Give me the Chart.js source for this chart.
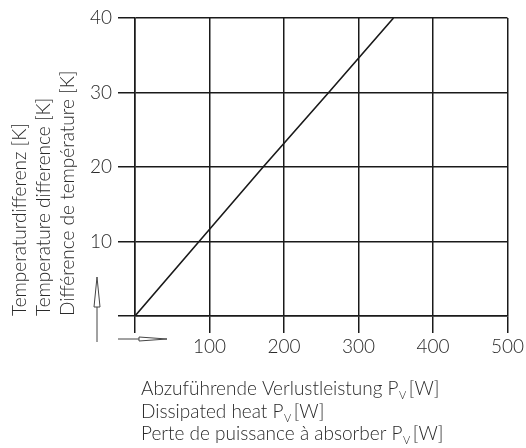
<!DOCTYPE html>
<html>
<head>
<meta charset="utf-8">
<script src="https://cdn.jsdelivr.net/npm/chart.js@4.4.0/dist/chart.umd.min.js"></script>
<style>
  body { margin: 0; background: #fff; }
</style>
</head>
<body>
<canvas id="myChart" width="526" height="448"></canvas>
<script>
const powerW = [0, 86, 172, 260, 347];
const tempK = [0, 10, 20, 30, 40];

const xTicks = [0, 100, 200, 300, 400, 500];
const yTicks = [0, 10, 20, 30, 40];

const yTitle = ["Temperaturdifferenz [K]", "Temperature difference [K]", "Différence de température [K]"];
const xTitle = ["Abzuführende Verlustleistung P", "Dissipated heat P", "Perte de puissance à absorber P"];

const FONT = "Lato, 'Liberation Sans', sans-serif";
const textColor = "#2a2a2a";
const lineColor = "#1a1a1a";

// x title with subscript V, plus the two little axis arrows
const extras = {
  id: "extras",
  afterDraw(chart) {
    const ctx = chart.ctx;
    ctx.save();
    ctx.fillStyle = textColor;
    ctx.textBaseline = "alphabetic";
    const baselines = [395, 417.5, 440];
    xTitle.forEach((t, i) => {
      let x = 141;
      const y = baselines[i];
      ctx.font = "300 19px " + FONT;
      ctx.fillText(t, x, y);
      x += ctx.measureText(t).width;
      ctx.font = "300 11px " + FONT;
      ctx.fillText("V", x + 0.5, y + 4);
      x += ctx.measureText("V").width + 3;
      ctx.font = "300 19px " + FONT;
      ctx.fillText("[W]", x, y);
    });

    ctx.strokeStyle = "#444";
    ctx.lineWidth = 1;
    // right arrow
    ctx.beginPath();
    ctx.moveTo(118, 339);
    ctx.lineTo(139, 339);
    ctx.stroke();
    ctx.beginPath();
    ctx.moveTo(139, 337);
    ctx.lineTo(167, 339);
    ctx.lineTo(139, 341);
    ctx.closePath();
    ctx.stroke();
    // up arrow
    ctx.beginPath();
    ctx.moveTo(97, 342);
    ctx.lineTo(97, 307);
    ctx.stroke();
    ctx.beginPath();
    ctx.moveTo(94, 307);
    ctx.lineTo(97, 277);
    ctx.lineTo(100, 307);
    ctx.closePath();
    ctx.stroke();
    ctx.restore();
  }
};

new Chart("myChart", {
  type: "scatter",
  data: {
    datasets: [
      {
        data: powerW.map((p, i) => ({ x: p, y: tempK[i] })),
        showLine: true,
        borderColor: lineColor,
        borderWidth: 1.6,
        pointRadius: 0,
        fill: false,
      },
    ],
  },
  options: {
    responsive: false,
    animation: false,
    layout: { padding: { top: 18, right: 18, left: 0, bottom: 0 } },
    plugins: { legend: { display: false }, tooltip: { enabled: false } },
    scales: {
      x: {
        type: "linear",
        min: 0,
        max: 500,
        afterBuildTicks: (s) => { s.ticks = xTicks.map((v) => ({ value: v })); },
        afterFit: (s) => { s.height = 132; },
        ticks: {
          callback: (v) => (v === 0 ? "" : String(v)),
          color: textColor,
          font: { family: FONT, size: 19, weight: 300 },
          padding: 2,
          maxRotation: 0,
        },
        grid: { color: lineColor, lineWidth: 1.5, tickLength: 17 },
        border: { color: lineColor, width: 1.5 },
      },
      y: {
        type: "linear",
        min: 0,
        max: 40,
        afterBuildTicks: (s) => { s.ticks = yTicks.map((v) => ({ value: v })); },
        afterFit: (s) => { s.width = 135; },
        ticks: {
          callback: (v) => (v === 0 ? "" : String(v)),
          color: textColor,
          font: { family: FONT, size: 19, weight: 300 },
          padding: 6,
        },
        grid: { color: lineColor, lineWidth: 1.5, tickLength: 17 },
        border: { color: lineColor, width: 1.5 },
        title: {
          display: true,
          text: yTitle,
          align: "start",
          color: textColor,
          font: { family: FONT, size: 19, weight: 300, lineHeight: "24px" },
          padding: { top: 8, bottom: 0 },
        },
      },
    },
  },
  plugins: [extras],
});
</script>
</body>
</html>
